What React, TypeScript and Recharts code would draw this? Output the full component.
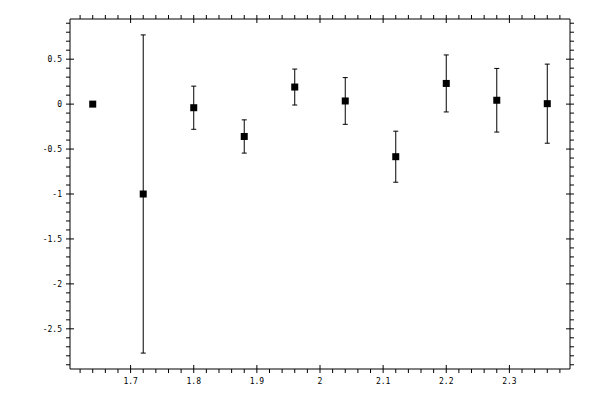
import React from 'react';
import { ScatterChart, Scatter, XAxis, YAxis, ErrorBar } from 'recharts';

const xValues = [1.64, 1.72, 1.8, 1.88, 1.96, 2.04, 2.12, 2.2, 2.28, 2.36];
const yValues = [0, -1.0, -0.04, -0.36, 0.19, 0.035, -0.585, 0.23, 0.043, 0.005];
const yErrors = [0, 1.77, 0.24, 0.185, 0.2, 0.26, 0.284, 0.317, 0.354, 0.44];

const xMajorTicks = [1.7, 1.8, 1.9, 2, 2.1, 2.2, 2.3];
const yMajorTicks = [-2.5, -2, -1.5, -1, -0.5, 0, 0.5];

const xDomain: [number, number] = [1.604, 2.396];
const yDomain: [number, number] = [-2.947, 0.947];

// minor ticks every 0.02 on x and 0.1 on y, majors included
const xTicks: number[] = [];
for (let i = 81; i <= 119; i++) xTicks.push(Math.round(i * 2) / 100);
const yTicks: number[] = [];
for (let i = -29; i <= 9; i++) yTicks.push(i / 10);

const data = xValues.map((x, i) => ({ x, y: yValues[i], err: yErrors[i] }));

const isMajor = (v: number, list: number[]) => list.some((t) => Math.abs(t - v) < 1e-6);

const FONT = '"DejaVu Sans Mono", monospace';
const INK = '#000';

const xTick = (side: 'top' | 'bottom') => (props: any) => {
  const { x, y, payload } = props;
  const major = isMajor(payload.value, xMajorTicks);
  const out = side === 'bottom' ? 1 : -1;
  return (
    <g>
      <line x1={x} x2={x} y1={major ? y - out * 4 : y} y2={y + out * 4} stroke={INK} />
      {major && side === 'bottom' && (
        <text x={x} y={y + 15} textAnchor="middle" fontSize={8} fontFamily={FONT} fill={INK}>
          {String(payload.value)}
        </text>
      )}
    </g>
  );
};

const yTick = (side: 'left' | 'right') => (props: any) => {
  const { x, y, payload } = props;
  const major = isMajor(payload.value, yMajorTicks);
  const out = side === 'left' ? -1 : 1;
  return (
    <g>
      <line y1={y} y2={y} x1={major ? x - out * 4 : x} x2={x + out * 4} stroke={INK} />
      {major && side === 'left' && (
        <text x={x - 8} y={y + 3} textAnchor="end" fontSize={8} fontFamily={FONT} fill={INK}>
          {String(payload.value)}
        </text>
      )}
    </g>
  );
};

const SquareDot = (props: any) => {
  const { cx, cy } = props;
  return <rect x={cx - 3.5} y={cy - 3.5} width={7} height={7} fill={INK} />;
};

export default function App() {
  return (
    <div style={{ width: 584, height: 384, background: '#fff' }}>
      <ScatterChart width={584} height={384} margin={{ top: 0, right: 0, bottom: 0, left: 0 }}>
        <XAxis
          xAxisId="bottom"
          orientation="bottom"
          type="number"
          dataKey="x"
          domain={xDomain}
          allowDataOverflow
          ticks={xTicks}
          interval={0}
          height={23}
          stroke={INK}
          tickLine={false}
          tickSize={0}
          tickMargin={0}
          tick={xTick('bottom')}
        />
        <XAxis
          xAxisId="top"
          orientation="top"
          type="number"
          dataKey="x"
          domain={xDomain}
          allowDataOverflow
          ticks={xTicks}
          interval={0}
          height={11}
          stroke={INK}
          tickLine={false}
          tickSize={0}
          tickMargin={0}
          tick={xTick('top')}
        />
        <YAxis
          yAxisId="left"
          orientation="left"
          type="number"
          dataKey="y"
          domain={yDomain}
          allowDataOverflow
          ticks={yTicks}
          interval={0}
          width={62}
          stroke={INK}
          tickLine={false}
          tickSize={0}
          tickMargin={0}
          tick={yTick('left')}
        />
        <YAxis
          yAxisId="right"
          orientation="right"
          type="number"
          dataKey="y"
          domain={yDomain}
          allowDataOverflow
          ticks={yTicks}
          interval={0}
          width={22}
          stroke={INK}
          tickLine={false}
          tickSize={0}
          tickMargin={0}
          tick={yTick('right')}
        />
        <Scatter
          data={data}
          xAxisId="bottom"
          yAxisId="left"
          fill={INK}
          shape={SquareDot}
          isAnimationActive={false}
        >
          <ErrorBar dataKey="err" direction="y" width={2.5} stroke={INK} strokeWidth={1} isAnimationActive={false} />
        </Scatter>
        <Scatter
          data={data}
          xAxisId="top"
          yAxisId="right"
          shape={() => <g />}
          isAnimationActive={false}
        />
      </ScatterChart>
    </div>
  );
}
